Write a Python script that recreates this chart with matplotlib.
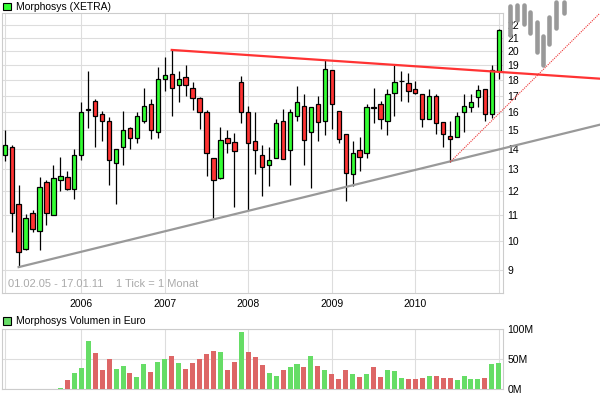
import matplotlib
matplotlib.use('Agg')
import matplotlib.pyplot as plt
from matplotlib.patches import Rectangle
from matplotlib.ticker import NullLocator

plt.rcParams['font.family'] = ['Liberation Sans', 'DejaVu Sans']
plt.rcParams['font.size'] = 7.5

# Monatskerzen 02.2005 - 01.2011
opens = [13.7, 14.1, 11.45, 9.72, 11.1, 10.4, 12.4, 11.0, 12.5, 12.65, 12.1, 13.7,
         16.2, 16.7, 15.9, 15.5, 13.32, 14.1, 15.1, 14.6, 15.5, 16.5, 14.9, 18.1,
         18.4, 17.7, 18.2, 17.5, 16.85, 16.0, 13.55, 12.6, 14.6, 14.35, 17.85, 16.0,
         14.4, 13.7, 13.2, 13.55, 15.5, 13.95, 15.8, 16.4, 14.9, 16.5, 15.5, 18.7,
         16.1, 14.8, 12.8, 13.95, 13.8, 16.3, 16.5, 15.5, 17.2, 17.95, 17.8, 17.4,
         17.1, 15.65, 17.0, 15.45, 14.7, 14.65, 16.0, 16.3, 16.9, 17.4, 15.9, 18.6]
highs = [15.0, 14.2, 12.3, 11.05, 11.2, 12.66, 12.5, 13.2, 13.6, 12.9, 14.0, 16.65,
         18.6, 16.8, 16.1, 15.75, 14.0, 16.1, 15.2, 16.0, 17.5, 16.8, 18.9, 19.6,
         20.1, 18.6, 19.0, 17.9, 16.9, 16.15, 13.55, 15.2, 15.0, 14.85, 18.3, 16.4,
         16.0, 14.2, 14.1, 15.6, 16.2, 16.2, 17.6, 17.1, 16.3, 17.0, 19.4, 18.7,
         16.1, 14.8, 14.4, 14.65, 16.5, 17.5, 16.7, 17.4, 19.0, 18.6, 18.5, 17.95,
         17.1, 17.4, 17.1, 15.45, 15.5, 16.05, 17.1, 17.1, 17.7, 17.4, 19.0, 21.7]
lows = [13.4, 10.35, 9.1, 9.7, 10.35, 9.7, 10.6, 11.0, 12.0, 12.05, 11.65, 13.45,
        15.1, 14.1, 14.4, 12.3, 11.45, 13.2, 14.0, 14.3, 15.4, 14.5, 14.55, 17.3,
        15.8, 16.6, 17.0, 16.15, 15.05, 12.7, 10.9, 12.55, 13.8, 11.35, 15.4, 11.2,
        12.8, 11.8, 12.25, 13.55, 13.5, 12.3, 15.5, 13.2, 12.15, 14.4, 14.75, 15.05,
        14.3, 11.6, 12.25, 12.9, 13.55, 15.4, 15.05, 14.75, 15.8, 16.7, 16.6, 17.1,
        15.2, 15.6, 14.8, 14.1, 13.35, 14.65, 14.9, 16.0, 16.3, 15.5, 15.7, 18.05]
closes = [14.2, 11.1, 9.63, 10.9, 10.45, 12.2, 11.1, 12.6, 12.7, 12.1, 13.7, 16.05,
          16.15, 15.8, 15.5, 13.45, 14.0, 15.0, 14.6, 15.8, 16.4, 15.0, 18.1, 18.35,
          17.5, 18.1, 17.7, 16.85, 16.0, 13.8, 12.5, 14.45, 14.3, 13.9, 16.0, 14.3,
          13.95, 13.1, 13.45, 15.4, 13.5, 16.0, 16.6, 14.45, 16.3, 15.45, 18.75, 16.5,
          14.5, 12.85, 13.8, 13.6, 16.3, 16.25, 15.6, 17.1, 17.9, 17.95, 17.3, 17.2,
          15.6, 17.0, 15.4, 14.8, 14.5, 15.8, 16.4, 16.65, 17.35, 15.9, 18.65, 21.6]
# Volumen in Mio. Euro
volumes = [0, 0, 0, 0, 0, 0, 0, 0, 2, 16, 28, 36,
           81, 61, 32, 51, 34, 39, 27, 21, 42, 29, 46, 51,
           56, 44, 34, 44, 51, 59, 64, 62, 32, 46, 96, 62,
           54, 41, 27, 22, 32, 37, 42, 37, 56, 39, 32, 26,
           17, 32, 26, 21, 26, 37, 21, 32, 31, 19, 17, 17,
           19, 22, 22, 19, 19, 16, 22, 17, 17, 19, 42, 44]

year_pos = [0, 11, 23, 35, 47, 59, 71]
year_labels = ['', '2006', '2007', '2008', '2009', '2010', '']
price_ticks = list(range(9, 23))

# Trendlinien (Monatsindex, Kurs)
resist_x, resist_y = [24, 85.5], [20.1, 18.1]
support_x, support_y = [2, 85.5], [9.1, 15.3]
steep_x, steep_y = [64, 85.5], [13.35, 22.97]

# Logo oben rechts: x, y oben, y unten (Pixel)
logo_bars = [(509.5, 4, 37), (516.5, 3, 22), (524, 3, 26), (530, 10, 35), (536.5, 20, 54),
             (542.5, 34, 67), (548.5, 15, 46), (556, 0, 30), (563.5, 0, 15)]

W, H = 600, 398
fig = plt.figure(figsize=(6, 3.98), dpi=100)

ax = fig.add_axes([2 / W, 1 - 293 / H, 501 / W, 280 / H])
ax.set_yscale('log')
ax.set_xlim(-0.39, 71.6)
ax.set_ylim(8.28, 23.0)
ax.set_yticks(price_ticks)
ax.set_yticklabels([str(t) for t in price_ticks])
ax.yaxis.set_minor_locator(NullLocator())
ax.yaxis.tick_right()
ax.set_xticks(year_pos)
ax.set_xticklabels(year_labels)
ax.tick_params(axis='both', length=0)
ax.tick_params(axis='y', pad=3)
ax.tick_params(axis='x', pad=4)
ax.grid(True, color='#dddddd', lw=0.8)
ax.set_axisbelow(True)
for s in ax.spines.values():
    s.set_color('#cccccc')
    s.set_linewidth(0.8)

idx = list(range(len(opens)))
ax.vlines(idx, lows, highs, color='black', lw=0.9, zorder=2)
body_bot = [min(o, c) for o, c in zip(opens, closes)]
body_h = [abs(c - o) for o, c in zip(opens, closes)]
body_col = ['#33ff33' if c >= o else '#ff3333' for o, c in zip(opens, closes)]
ax.bar(idx, body_h, bottom=body_bot, width=0.62, color=body_col, edgecolor='black', lw=0.9, zorder=3)

ax.plot(resist_x, resist_y, color='#ff3333', lw=1.6, clip_on=False, zorder=4)
ax.plot(support_x, support_y, color='#999999', lw=1.6, clip_on=False, zorder=4)
ax.plot(steep_x, steep_y, color='#ee3333', lw=0.8, ls=(0, (1, 1)), clip_on=False, zorder=4)

ax.text(0.5, 8.56, '01.02.05 - 17.01.11    1 Tick = 1 Monat', color='#aaaaaa', fontsize=8, va='center')

# Volumen
ax2 = fig.add_axes([2 / W, 1 - 389.3 / H, 501 / W, 60 / H])
ax2.set_xlim(-0.39, 71.6)
ax2.set_ylim(0, 100)
vol_col = ['#66dd66']
for i in range(1, len(closes)):
    vol_col.append('#66dd66' if closes[i] >= closes[i - 1] else '#dd6666')
ax2.bar(idx, volumes, width=0.72, color=vol_col, zorder=3)
ax2.set_yticks([0, 50, 100])
ax2.set_yticklabels(['0M', '50M', '100M'])
ax2.yaxis.tick_right()
ax2.set_xticks(year_pos)
ax2.set_xticklabels([])
ax2.tick_params(axis='both', length=0)
ax2.tick_params(axis='y', pad=3)
ax2.grid(True, color='#dddddd', lw=0.8)
ax2.set_axisbelow(True)
for s in ax2.spines.values():
    s.set_color('#cccccc')
    s.set_linewidth(0.8)

# Ueberlagerung in Pixelkoordinaten: Legenden und Logo
ov = fig.add_axes([0, 0, 1, 1], zorder=10)
ov.set_xlim(0, W)
ov.set_ylim(H, 0)
ov.axis('off')
ov.patch.set_alpha(0)
ov.add_patch(Rectangle((3.3, 2.7), 7.4, 7.4, facecolor='#33ff33', edgecolor='black', lw=0.8))
ov.text(15.7, 6.6, 'Morphosys (XETRA)', va='center', ha='left')
ov.add_patch(Rectangle((3.3, 317.3), 7.4, 7.4, facecolor='#66dd66', edgecolor='black', lw=0.8))
ov.text(15.7, 321.2, 'Morphosys Volumen in Euro', va='center', ha='left')
for x, y0, y1 in logo_bars:
    ov.plot([x, x], [y0 + 2, y1 - 2], color='#999999', lw=3.3, solid_capstyle='round')

fig.savefig('out.png', dpi=100)
